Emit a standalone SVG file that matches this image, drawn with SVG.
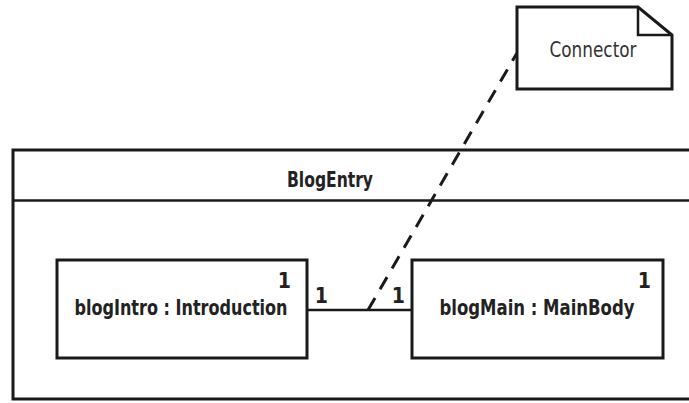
<svg xmlns="http://www.w3.org/2000/svg" width="689" height="403" viewBox="0 0 689 403">
<style>
.box{fill:#fff;stroke:#1a1a1a;stroke-width:3}
.t{font-family:"DejaVu Sans Condensed","DejaVu Sans","Liberation Sans",sans-serif;font-stretch:condensed;font-weight:bold;font-size:21px;fill:#222}
.n{font-family:"DejaVu Sans Condensed","DejaVu Sans","Liberation Sans",sans-serif;font-stretch:condensed;font-size:21px;fill:#333}
.line{stroke:#1a1a1a;stroke-width:2.5;fill:none}
.dash{stroke:#1a1a1a;stroke-width:3;fill:none;stroke-dasharray:14 10}
</style>
<rect width="689" height="403" fill="#fff"/>
<g id="BlogEntry">
<rect class="box" x="13" y="150" width="690" height="249"/>
<line class="line" x1="13" y1="200.5" x2="689" y2="200.5" stroke-width="3"/>
<text class="t" x="330" y="187" text-anchor="middle" textLength="86" lengthAdjust="spacingAndGlyphs" font-size="22">BlogEntry</text>
</g>
<g id="blogIntro">
<rect class="box" x="57" y="260" width="250" height="98"/>
<text class="t" x="181" y="315" text-anchor="middle" textLength="213" lengthAdjust="spacingAndGlyphs">blogIntro : Introduction</text>
<text class="t" x="291" y="288" text-anchor="end">1</text>
</g>
<g id="blogMain">
<rect class="box" x="412" y="260" width="251" height="98"/>
<text class="t" x="537" y="315" text-anchor="middle" textLength="195" lengthAdjust="spacingAndGlyphs">blogMain : MainBody</text>
<text class="t" x="651" y="288" text-anchor="end">1</text>
</g>
<g id="ConnectorNote">
<path class="box" d="M517 7 H638 L672 35 V89 H517 Z" stroke-width="2.5"/>
<path class="line" d="M638 7 V35 H672"/>
<text class="n" x="593" y="57" text-anchor="middle" textLength="87" lengthAdjust="spacingAndGlyphs">Connector</text>
</g>
<g id="connectors">
<line class="line" x1="307" y1="310" x2="412" y2="310"/>
<text class="t" x="328" y="303" text-anchor="end">1</text>
<text class="t" x="405" y="303" text-anchor="end">1</text>
<line class="dash" x1="368" y1="310" x2="517" y2="53"/>
</g>
</svg>
